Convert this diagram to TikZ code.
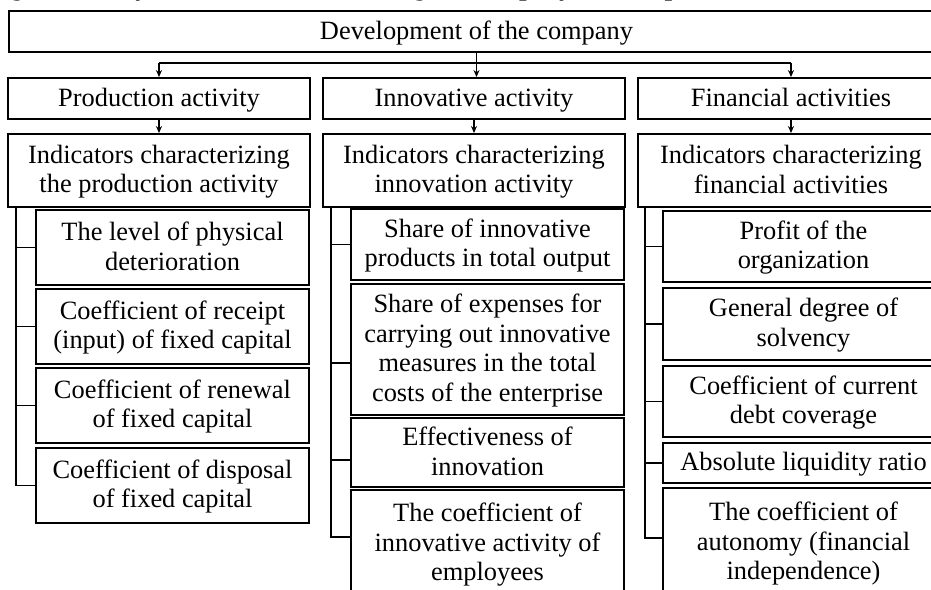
\documentclass[tikz,border=0pt]{standalone}
\usepackage{fontspec}
\setmainfont{Liberation Serif}
\usetikzlibrary{arrows.meta}
\tikzset{
  bx/.style={draw=black, line width=1.9pt, inner sep=0pt, align=center,
    font=\fontsize{26.4}{29.5}\selectfont},
  ln/.style={draw=black, line width=1.7pt},
  arr/.style={ln, -{Stealth[length=7pt,width=6pt]}},
  capt/.style={inner sep=0pt, anchor=base west,
    font=\fontsize{26.4}{29}\selectfont\bfseries\itshape}
}
\newcommand\mystrut{\rule[-5pt]{0pt}{26pt}}
\newcommand\mybox[6]{%
  \pgfmathsetmacro\mycx{(#2+#4)/2}\pgfmathsetmacro\mycy{(#3+#5)/2}%
  \pgfmathsetmacro\myww{#4-#2}\pgfmathsetmacro\myhh{#5-#3}%
  \node[bx, minimum width=\myww pt, minimum height=\myhh pt] (#1) at (\mycx,\mycy) {\mystrut#6\mystrut};}
\begin{document}
\begin{tikzpicture}[x=1pt,y=-1pt]
\useasboundingbox (0,0) rectangle (931,589);
\fill[white] (0,0) rectangle (931,589);
\clip (0,0) rectangle (931,589);
\node[capt] (cap) at (-12,-5) {Figure 1 – Key indicators characterizing the company’s development};
% top
\mybox{top}{9}{11}{944}{52}{Development of the company}
% row 2
\mybox{p1}{8}{78}{310}{119}{Production activity}
\mybox{p2}{323}{78}{625}{119}{Innovative activity}
\mybox{p3}{638}{78}{944}{119}{Financial activities}
% indicators
\mybox{i1}{8}{134}{310}{207}{Indicators characterizing\\the production activity}
\mybox{i2}{323}{134}{625}{207}{Indicators characterizing\\innovation activity}
\mybox{i3}{638}{134}{944}{207}{Indicators characterizing\\financial activities}
% column 1
\mybox{a1}{36}{210}{309}{285}{The level of physical\\deterioration}
\mybox{a2}{36}{289}{309}{364}{Coefficient of receipt\\(input) of fixed capital}
\mybox{a3}{36}{368}{309}{443}{Coefficient of renewal\\of fixed capital}
\mybox{a4}{36}{448}{309}{523}{Coefficient of disposal\\of fixed capital}
% column 2
\mybox{b1}{351}{209}{624}{280}{Share of innovative\\products in total output}
\mybox{b2}{351}{284}{624}{415}{Share of expenses for\\carrying out innovative\\measures in the total\\costs of the enterprise}
\mybox{b3}{351}{418}{624}{487}{Effectiveness of\\innovation}
\mybox{b4}{351}{490}{624}{597}{The coefficient of\\innovative activity of\\employees}
% column 3
\mybox{c1}{663}{211}{944}{282}{Profit of the\\organization}
\mybox{c2}{663}{288}{944}{360}{General degree of\\solvency}
\mybox{c3}{663}{366}{944}{437}{Coefficient of current\\debt coverage}
\mybox{c4}{663}{443}{944}{483}{Absolute liquidity ratio}
\mybox{c5}{663}{488}{944}{597}{The coefficient of\\autonomy (financial\\independence)}
% top connectors
\path (top.south) ++(0,10) coordinate (j);
\draw[ln] (j -| p1.north) -- (j -| p3.north);
\draw[arr] (top.south) -- (top.south |- p2.north);
\draw[arr] (j -| p1.north) -- (p1.north);
\draw[arr] (j -| p3.north) -- (p3.north);
% to indicators
\draw[arr] (p1.south) -- (i1.north);
\draw[arr] (p2.south) -- (i2.north);
\draw[arr] (p3.south) -- (i3.north);
% brackets column 1
\coordinate (k1) at ([xshift=9pt]i1.south west);
\draw[ln] (k1) |- (a1.west);
\draw[ln] (k1) |- (a2.west);
\draw[ln] (k1) |- (a3.west);
\draw[ln] (k1) |- (a4.west);
% brackets column 2
\coordinate (k2) at ([xshift=9pt]i2.south west);
\draw[ln] (k2) |- (b1.west);
\draw[ln] (k2) |- ([yshift=-13.5pt]b2.west);
\draw[ln] (k2) |- ([yshift=-7.5pt]b3.west);
\draw[ln] (k2) |- ([yshift=6.5pt]b4.west);
% brackets column 3
\coordinate (k3) at ([xshift=8pt]i3.south west);
\draw[ln] (k3) |- (c1.west);
\draw[ln] (k3) |- (c2.west);
\draw[ln] (k3) |- (c3.west);
\draw[ln] (k3) |- (c4.west);
\draw[ln] (k3) |- ([yshift=4.5pt]c5.west);
\end{tikzpicture}
\end{document}
